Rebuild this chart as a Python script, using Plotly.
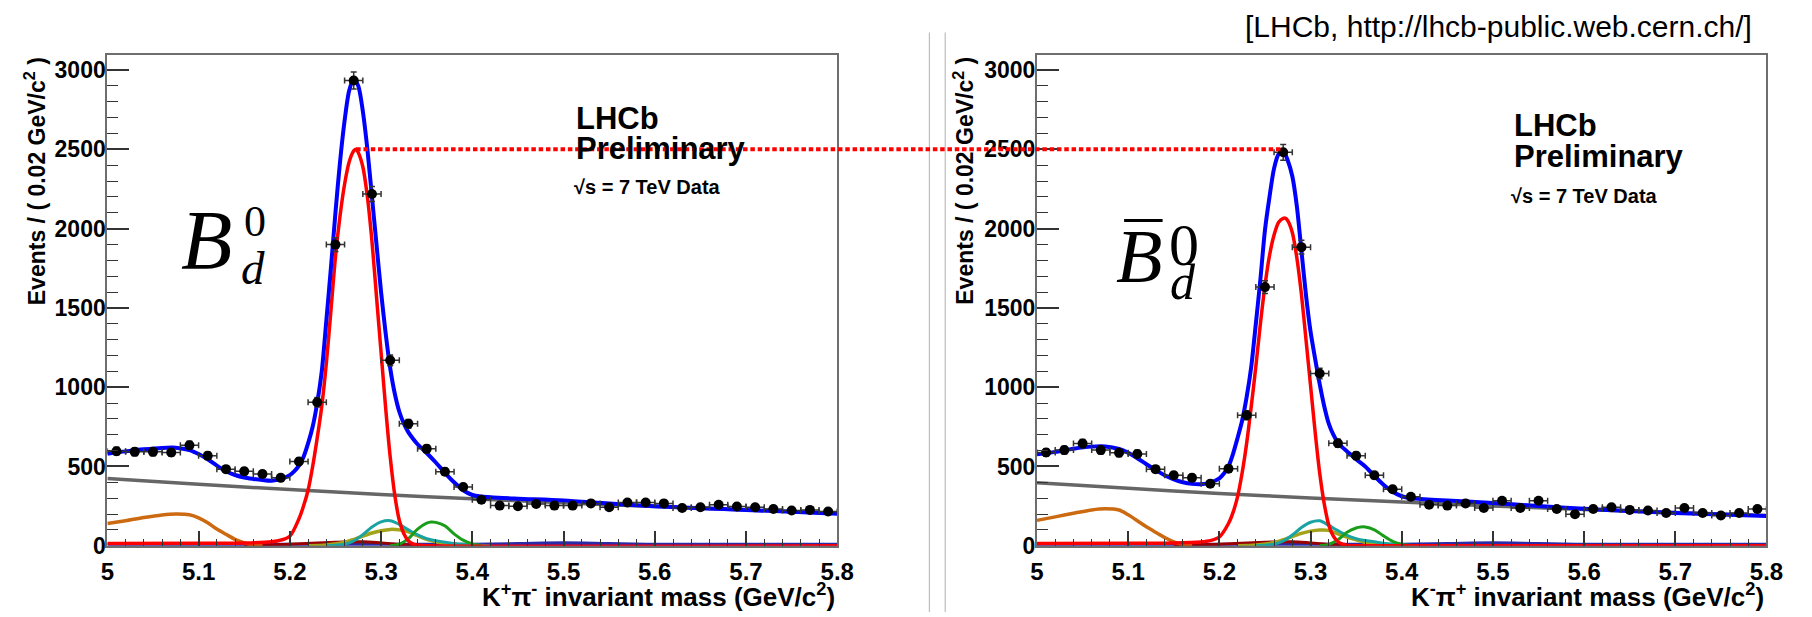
import numpy as np
import plotly.graph_objects as go

W, H = 1812, 617

# ---------------- data ----------------
bin_x = [5.01, 5.03, 5.05, 5.07, 5.09, 5.11, 5.13, 5.15, 5.17, 5.19,
         5.21, 5.23, 5.25, 5.27, 5.29, 5.31, 5.33, 5.35, 5.37, 5.39,
         5.41, 5.43, 5.45, 5.47, 5.49, 5.51, 5.53, 5.55, 5.57, 5.59,
         5.61, 5.63, 5.65, 5.67, 5.69, 5.71, 5.73, 5.75, 5.77, 5.79]

left_counts = [596, 592, 592, 588, 633, 568, 483, 469, 452, 428,
               531, 905, 1899, 2934, 2218, 1169, 769, 611, 467, 370,
               290, 253, 249, 263, 253, 253, 267, 243, 273, 273,
               267, 238, 243, 259, 247, 243, 232, 222, 226, 216]

right_counts = [588, 603, 644, 603, 586, 578, 483, 444, 428, 391,
                485, 823, 1631, 2481, 1883, 1086, 646, 568, 444, 356,
                309, 259, 253, 267, 238, 284, 238, 284, 232, 198,
                232, 243, 226, 222, 206, 238, 206, 191, 206, 232]

# total fit (blue)
fit_x = [5.00, 5.02, 5.04, 5.06, 5.075, 5.09, 5.10, 5.11, 5.12, 5.13,
         5.14, 5.15, 5.16, 5.17, 5.18, 5.19, 5.20, 5.205, 5.21, 5.215,
         5.22, 5.225, 5.23, 5.235, 5.24, 5.245, 5.25, 5.255, 5.26, 5.265,
         5.27, 5.275, 5.28, 5.285, 5.29, 5.295, 5.30, 5.305, 5.31, 5.315,
         5.32, 5.325, 5.33, 5.335, 5.34, 5.35, 5.36, 5.37, 5.38, 5.39,
         5.40, 5.41, 5.42, 5.45, 5.50, 5.55, 5.60, 5.65, 5.70, 5.75, 5.80]
fit_left = [580, 595, 608, 617, 618, 603, 578, 545, 505, 470,
            446, 430, 421, 414, 410, 420, 445, 470, 505, 560,
            645, 750, 900, 1100, 1420, 1750, 2100, 2420, 2680, 2870,
            2945, 2900, 2740, 2500, 2200, 1900, 1600, 1340, 1120, 960,
            845, 770, 715, 675, 640, 585, 525, 460, 400, 350,
            320, 310, 305, 297, 286, 266, 249, 237, 226, 214, 201]
fit_right = [576, 592, 612, 625, 626, 610, 586, 552, 514, 478,
             444, 418, 400, 390, 388, 398, 425, 455, 500, 580,
             680, 790, 940, 1130, 1400, 1680, 1990, 2200, 2380, 2470,
             2488, 2430, 2330, 2140, 1860, 1580, 1350, 1180, 1020, 880,
             770, 700, 650, 620, 595, 545, 500, 440, 385, 340,
             312, 300, 295, 285, 270, 250, 233, 219, 207, 197, 187]

# signal (red)
sig_x = [5.00, 5.10, 5.15, 5.18, 5.19, 5.20, 5.21, 5.215, 5.22, 5.225,
         5.23, 5.235, 5.24, 5.245, 5.25, 5.255, 5.26, 5.265, 5.27, 5.2727,
         5.275, 5.28, 5.285, 5.29, 5.295, 5.30, 5.305, 5.31, 5.315, 5.32,
         5.325, 5.33, 5.335, 5.34, 5.35, 5.80]
sig_left = [14, 15, 17, 25, 35, 60, 170, 250, 350, 500,
            680, 880, 1150, 1480, 1820, 2080, 2280, 2420, 2490, 2500,
            2480, 2390, 2200, 1920, 1570, 1220, 870, 560, 320, 160,
            75, 30, 12, 4, 0, 0]
sig_right = [14, 15, 17, 24, 32, 55, 140, 210, 310, 460,
             650, 880, 1130, 1400, 1640, 1830, 1960, 2040, 2065, 2065,
             2050, 1975, 1815, 1585, 1300, 1010, 720, 460, 265, 130,
             60, 25, 10, 3, 0, 0]

# combinatorial background (grey)
comb_x = [5.0, 5.1, 5.2, 5.3, 5.4, 5.5, 5.6, 5.7, 5.8]
comb_left = [424, 387, 354, 323, 296, 271, 247, 225, 205]
comb_right = [397, 362, 330, 301, 275, 251, 229, 209, 190]

# partially reconstructed (orange)
part_x = [5.00, 5.02, 5.04, 5.06, 5.075, 5.09, 5.10, 5.11, 5.12, 5.13, 5.14, 5.15, 5.16, 5.17]
part_left = [140, 158, 178, 194, 200, 195, 176, 145, 105, 72, 40, 18, 5, 0]
part_right = [160, 182, 205, 226, 233, 225, 195, 158, 119, 85, 52, 25, 8, 0]

# teal component
teal_x = [5.24, 5.26, 5.27, 5.28, 5.29, 5.30, 5.31, 5.32, 5.33, 5.34, 5.35, 5.36, 5.37, 5.38, 5.39, 5.40, 5.42]
teal_left = [0, 10, 30, 70, 118, 150, 158, 135, 100, 68, 45, 32, 22, 14, 9, 6, 0]
teal_right = [0, 10, 30, 68, 115, 148, 157, 128, 95, 65, 45, 33, 25, 15, 9, 5, 0]

# olive component
olive_x = [5.22, 5.24, 5.26, 5.27, 5.28, 5.29, 5.30, 5.31, 5.32, 5.33, 5.34, 5.35, 5.36, 5.37, 5.38, 5.40]
olive_left = [0, 5, 22, 40, 60, 80, 95, 103, 100, 88, 63, 40, 25, 13, 5, 0]
olive_right = [0, 5, 20, 38, 58, 78, 92, 99, 97, 75, 55, 38, 22, 12, 5, 0]

# green component
green_x = [5.31, 5.32, 5.33, 5.34, 5.35, 5.355, 5.36, 5.37, 5.38, 5.39, 5.40, 5.41]
green_left = [0, 10, 45, 105, 143, 150, 147, 125, 75, 35, 12, 0]
green_right = [0, 8, 37, 85, 112, 118, 118, 100, 62, 28, 10, 0]

# dark red component
dred_x = [5.15, 5.20, 5.25, 5.28, 5.30, 5.33, 5.36]
dred_vals = [0, 10, 22, 25, 18, 5, 0]

# near-zero component (navy)
navy_x = [5.0, 5.40, 5.45, 5.50, 5.55, 5.60, 5.80]
navy_vals = [3, 3, 7, 12, 7, 3, 3]

x_tickvals = [5.0, 5.1, 5.2, 5.3, 5.4, 5.5, 5.6, 5.7, 5.8]
x_ticktext = ["5", "5.1", "5.2", "5.3", "5.4", "5.5", "5.6", "5.7", "5.8"]
y_tickvals = [0, 500, 1000, 1500, 2000, 2500, 3000]
y_ticktext = ["0", "500", "1000", "1500", "2000", "2500", "3000"]

ref_level = 2500
peak_left_x = 5.2727
peak_right_x = 5.27

# ---------------- layout geometry ----------------
X_RANGE = [5.0, 5.8]
Y_RANGE = [0, 3093]
DOM_X1 = [93.6 / W, 833.3 / W]
DOM_X2 = [1035.7 / W, 1775.0 / W]
DOM_Y = [(H - 549.3) / H, (H - 48.3) / H]


def px(xp):
    return xp / W


def py(yp):
    return 1 - yp / H


def data_to_paper_x(v, dom):
    return dom[0] + (v - X_RANGE[0]) / (X_RANGE[1] - X_RANGE[0]) * (dom[1] - dom[0])


def data_to_paper_y(v):
    return DOM_Y[0] + (v - Y_RANGE[0]) / (Y_RANGE[1] - Y_RANGE[0]) * (DOM_Y[1] - DOM_Y[0])


fig = go.Figure()

COL = dict(blue="#0000ff", red="#ff0000", grey="#666666", orange="#cc6a12",
           teal="#1aa3a3", olive="#a3a31a", green="#1a9e1a", dred="#990000", navy="#2b2ba8")


def add_panel(xa, ya, counts, fit, sig, comb, part, teal, olive, green):
    def line(x, y, color, width):
        fig.add_trace(go.Scatter(x=x, y=y, mode="lines", xaxis=xa, yaxis=ya,
                                 line=dict(color=color, width=width, shape="spline", smoothing=0.8),
                                 showlegend=False, hoverinfo="skip"))
    line(navy_x, navy_vals, COL["navy"], 5)
    line(dred_x, dred_vals, COL["dred"], 3)
    line(comb_x, comb, COL["grey"], 3.5)
    line(part_x, part, COL["orange"], 3.5)
    line(olive_x, olive, COL["olive"], 3.5)
    line(teal_x, teal, COL["teal"], 3)
    line(green_x, green, COL["green"], 3)
    line(sig_x, sig, COL["red"], 3.5)
    line(fit_x, fit, COL["blue"], 4)
    fig.add_trace(go.Scatter(
        x=bin_x, y=counts, mode="markers", xaxis=xa, yaxis=ya,
        marker=dict(color="black", size=10),
        error_x=dict(type="constant", value=0.01, width=3, thickness=1.5, color="#333333"),
        error_y=dict(type="data", array=np.sqrt(np.array(counts, dtype=float)), width=3,
                     thickness=1.5, color="#333333"),
        showlegend=False, hoverinfo="skip"))


add_panel("x", "y", left_counts, fit_left, sig_left, comb_left, part_left,
          teal_left, olive_left, green_left)
add_panel("x2", "y2", right_counts, fit_right, sig_right, comb_right, part_right,
          teal_right, olive_right, green_right)

tick_font_x = dict(family="Liberation Sans", size=24, color="black", weight="bold")
tick_font_y = dict(family="Liberation Sans", size=23, color="black", weight="bold")


def xaxis_cfg(domain, anchor):
    return dict(domain=domain, anchor=anchor, range=X_RANGE,
                tickmode="array", tickvals=x_tickvals, ticktext=x_ticktext,
                ticks="inside", ticklen=15, tickwidth=1.5, tickcolor="#333333",
                minor=dict(tick0=5.0, dtick=0.02, ticks="inside", ticklen=7,
                           tickwidth=1.2, tickcolor="#333333", showgrid=False),
                showline=True, linecolor="#6e6e6e", linewidth=2, mirror=True,
                showgrid=False, zeroline=False, tickfont=tick_font_x,
                ticklabelstandoff=3, fixedrange=True)


def yaxis_cfg(anchor):
    return dict(domain=DOM_Y, anchor=anchor, range=Y_RANGE,
                tickmode="array", tickvals=y_tickvals, ticktext=y_ticktext,
                ticks="inside", ticklen=22, tickwidth=1.5, tickcolor="#333333",
                minor=dict(tick0=0, dtick=100, ticks="inside", ticklen=11,
                           tickwidth=1.2, tickcolor="#333333", showgrid=False),
                showline=True, linecolor="#6e6e6e", linewidth=2, mirror=True,
                showgrid=False, zeroline=False, tickfont=tick_font_y,
                ticklabelstandoff=-5, fixedrange=True)


annotations = []


def text(x, y, s, size, xanchor="center", yanchor="middle", weight="normal",
         family="Liberation Sans", style="normal", angle=0):
    annotations.append(dict(x=px(x), y=py(y), xref="paper", yref="paper", text=s,
                            showarrow=False, xanchor=xanchor, yanchor=yanchor,
                            textangle=angle,
                            font=dict(family=family, size=size, color="black",
                                      weight=weight, style=style)))


# source
text(1762, 18.5, "[LHCb, http://lhcb-public.web.cern.ch/]", 30, xanchor="right")

# axis titles
text(833.3, 600, "K<sup>+</sup>π<sup>-</sup> invariant mass (GeV/c<sup>2</sup>)", 26,
     xanchor="right", weight="bold")
text(1775.0, 600, "K<sup>-</sup>π<sup>+</sup> invariant mass (GeV/c<sup>2</sup>)", 26,
     xanchor="right", weight="bold")
text(20.5, 48, "Events / ( 0.02 GeV/c<sup>2</sup> )", 23, yanchor="top", weight="bold", angle=-90)
text(961.5, 48, "Events / ( 0.02 GeV/c<sup>2</sup> )", 23, yanchor="top", weight="bold", angle=-90)

# LHCb labels
text(567, 112.5, "LHCb", 31, xanchor="left", weight="bold")
text(567, 144, "Preliminary", 31, xanchor="left", weight="bold")
text(564, 183, "√s = 7 TeV Data", 20, xanchor="left", weight="bold")
text(1517, 120, "LHCb", 31, xanchor="left", weight="bold")
text(1517, 152, "Preliminary", 31, xanchor="left", weight="bold")
text(1514, 192.5, "√s = 7 TeV Data", 20, xanchor="left", weight="bold")

# particle labels
serif = "Liberation Serif"
text(194, 238, "B", 84, family=serif, style="italic")
text(243, 218, "0", 44, family=serif)
text(241, 266, "d", 47, family=serif, style="italic")
text(1139, 253, "B", 76, family=serif, style="italic")
text(1185, 242, "0", 60, family=serif)
text(1184, 280, "d", 50, family=serif, style="italic")

shapes = []
# separators
for xs in (926.7, 942.7):
    shapes.append(dict(type="line", xref="paper", yref="paper", x0=px(xs), x1=px(xs),
                       y0=py(25), y1=py(617), line=dict(color="#bdbdbd", width=1.2)))
# bar over B
shapes.append(dict(type="line", xref="paper", yref="paper", x0=px(1124), x1=px(1163),
                   y0=py(217), y1=py(217), line=dict(color="black", width=3)))
# red dotted reference line
yref_paper = data_to_paper_y(ref_level)
shapes.append(dict(type="line", xref="paper", yref="paper",
                   x0=data_to_paper_x(peak_left_x, DOM_X1),
                   x1=data_to_paper_x(peak_right_x, DOM_X2),
                   y0=yref_paper, y1=yref_paper,
                   line=dict(color="#ff0000", width=4, dash="4.5px,2.8px")))

fig.update_layout(
    width=W, height=H, margin=dict(l=0, r=0, t=0, b=0),
    paper_bgcolor="white", plot_bgcolor="white",
    xaxis=xaxis_cfg(DOM_X1, "y"), yaxis=yaxis_cfg("x"),
    xaxis2=xaxis_cfg(DOM_X2, "y2"), yaxis2=yaxis_cfg("x2"),
    annotations=annotations, shapes=shapes, showlegend=False,
)

fig.write_html("out.html")
